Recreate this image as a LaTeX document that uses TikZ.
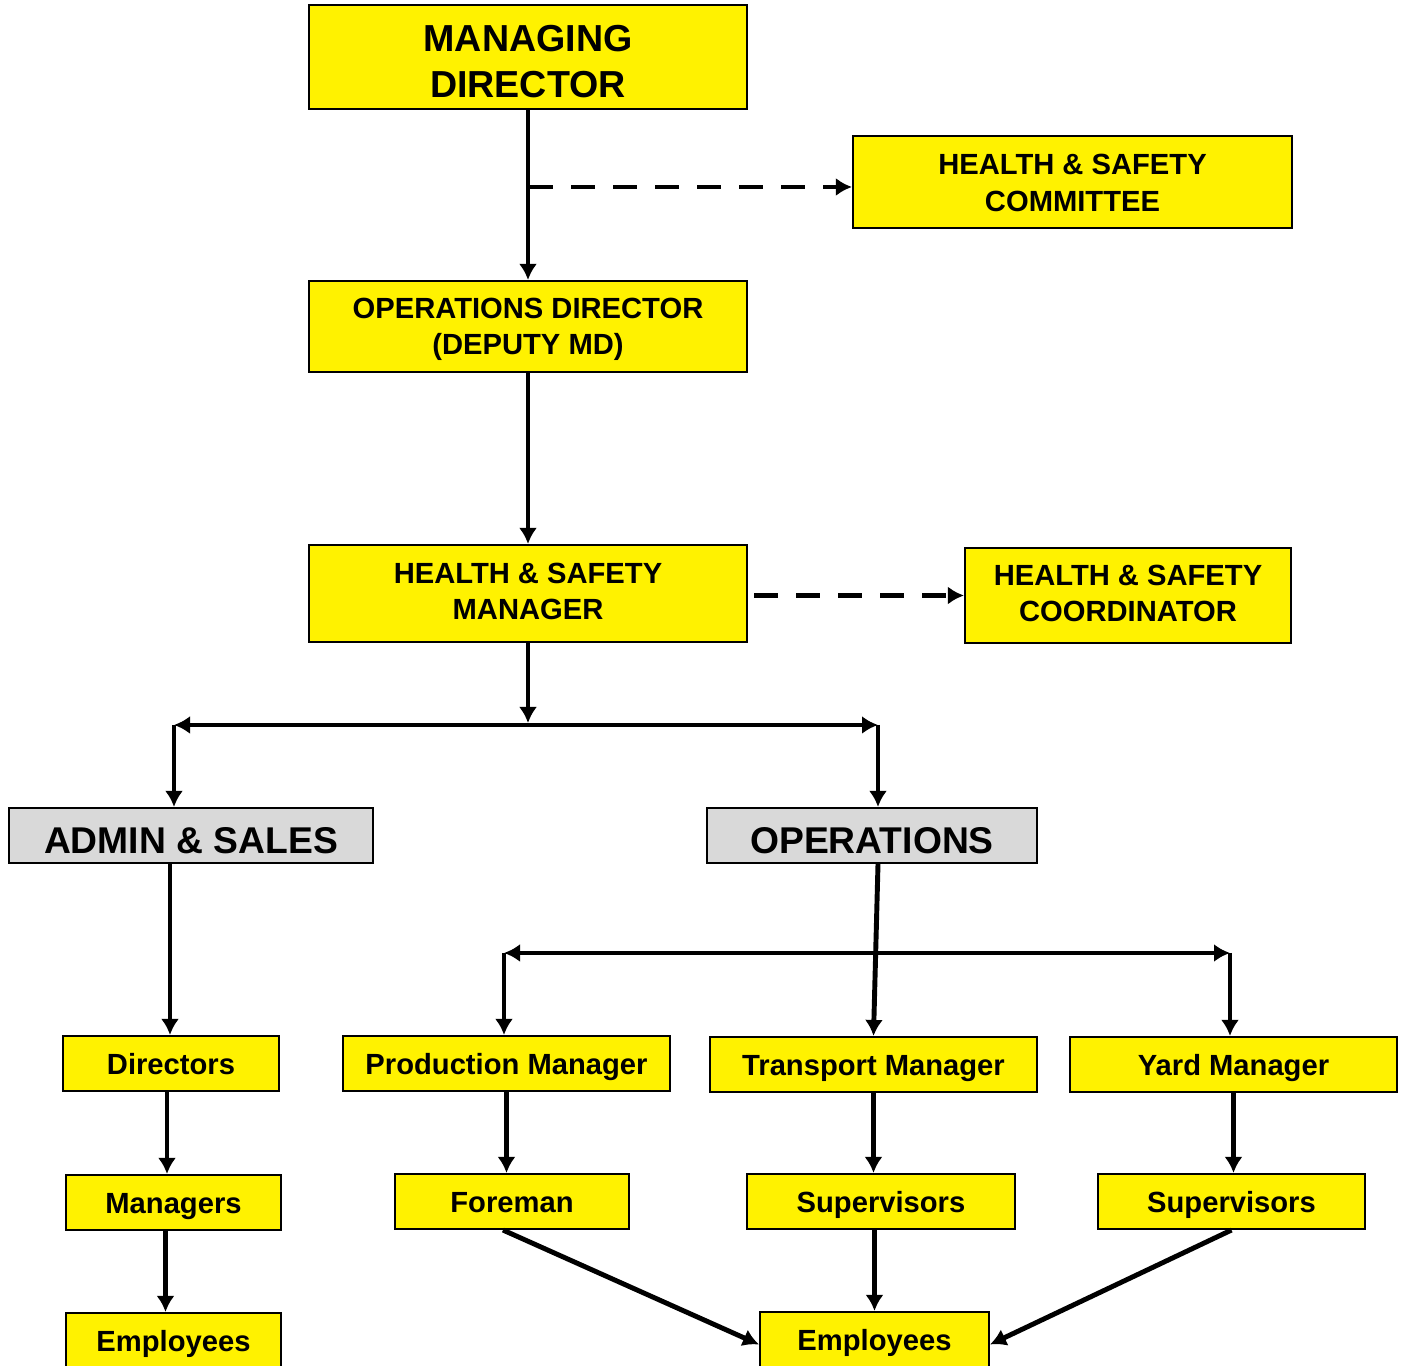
\documentclass[tikz,border=0pt]{standalone}
\usepackage{fontspec}
\setmainfont{Liberation Sans}
\usetikzlibrary{arrows.meta}

\tikzset{
  box/.style={draw, line width=0.6pt, fill=yellow, align=center, inner sep=0pt,
    font=\bfseries\fontsize{8.3}{10.4}\selectfont, text depth=0pt},
  onebox/.style={box, text height=0.229cm},
  bigbox/.style={box, font=\bfseries\fontsize{10.7}{13}\selectfont},
  deptbox/.style={box, fill=black!15, font=\bfseries\fontsize{10.6}{13}\selectfont, text height=0.356cm},
  arr/.style={line width=1.4pt, -{Latex[length=1.6mm,width=1.8mm]}},
  dasharr/.style={arr, dash pattern=on 0.24cm off 0.18cm},
  twoarr/.style={line width=1.4pt, {Latex[length=1.6mm,width=1.8mm]}-{Latex[length=1.6mm,width=1.8mm]}}
}

\begin{document}
\begin{tikzpicture}
  \useasboundingbox (0,0) rectangle (14.05,-13.66);
  % top of the chart
  \node[bigbox, minimum width=4.38cm, minimum height=1.04cm, text height=0.806cm] (md) at (5.28,-0.57) {MANAGING\\DIRECTOR};
  \node[box, minimum width=4.39cm, minimum height=0.92cm, text height=0.59cm] (hsc) at (10.725,-1.82) {HEALTH \& SAFETY\\COMMITTEE};
  \node[box, minimum width=4.38cm, minimum height=0.91cm, text height=0.57cm] (opd) at (5.28,-3.265) {OPERATIONS DIRECTOR\\(DEPUTY MD)};
  \node[box, minimum width=4.38cm, minimum height=0.97cm, text height=0.53cm] (hsm) at (5.28,-5.935) {HEALTH \& SAFETY\\MANAGER};
  \node[box, minimum width=3.26cm, minimum height=0.95cm, text height=0.525cm] (hsco) at (11.28,-5.955) {HEALTH \& SAFETY\\COORDINATOR};
  % departments
  \node[deptbox, minimum width=3.64cm, minimum height=0.55cm] (admin) at (1.91,-8.355) {ADMIN \& SALES};
  \node[deptbox, minimum width=3.30cm, minimum height=0.55cm] (ops) at (8.72,-8.355) {OPERATIONS};
  % managers
  \node[onebox, minimum width=2.16cm, minimum height=0.55cm] (dirs) at (1.71,-10.635) {Directors};
  \node[onebox, minimum width=3.27cm, minimum height=0.55cm] (prod) at (5.065,-10.635) {Production Manager};
  \node[onebox, minimum width=3.27cm, minimum height=0.55cm] (trans) at (8.735,-10.645) {Transport Manager};
  \node[onebox, minimum width=3.27cm, minimum height=0.55cm] (yard) at (12.335,-10.645) {Yard Manager};
  \node[onebox, minimum width=2.15cm, minimum height=0.55cm] (mgrs) at (1.735,-12.025) {Managers};
  \node[onebox, minimum width=2.34cm, minimum height=0.55cm] (fore) at (5.12,-12.015) {Foreman};
  \node[onebox, minimum width=2.68cm, minimum height=0.55cm] (sup1) at (8.81,-12.015) {Supervisors};
  \node[onebox, minimum width=2.67cm, minimum height=0.55cm] (sup2) at (12.315,-12.015) {Supervisors};
  \node[onebox, minimum width=2.15cm, minimum height=0.55cm] (emp1) at (1.735,-13.405) {Employees};
  \node[onebox, minimum width=2.29cm, minimum height=0.55cm] (emp2) at (8.745,-13.395) {Employees};
  % junctions
  \coordinate (j1) at (5.29,-1.87);
  \coordinate (bar) at (5.28,-7.23);
  \coordinate (bl) at (1.74,-7.25);
  \coordinate (br) at (8.78,-7.25);
  \coordinate (bl2) at (5.04,-9.53);
  \coordinate (br2) at (12.30,-9.53);
  % connectors
  \draw[arr] (md.south) -- (opd.north);
  \draw[dasharr] (j1) -- (j1 -| hsc.west);
  \draw[arr] (opd) -- (hsm);
  \draw[dasharr, shorten <=0.06cm] (hsm.east |- hsco.west) -- (hsco.west);
  \draw[arr] (hsm.south) -- (bar);
  \draw[twoarr] (bl) -- (br);
  \draw[arr] (bl) -- (bl |- admin.north);
  \draw[arr] (br) -- (br |- ops.north);
  \draw[arr] (br |- ops.south) -- (trans.north);
  \draw[twoarr] (bl2) -- (br2);
  \draw[arr] (bl2) -- (bl2 |- prod.north);
  \draw[arr] (br2) -- (br2 |- yard.north);
  \draw[arr] ([xshift=-0.01cm]admin.south -| dirs) -- ([xshift=-0.01cm]dirs.north);
  \draw[arr] ([xshift=-0.04cm]dirs.south) -- ([xshift=-0.04cm]dirs.south |- mgrs.north);
  \draw[arr] ([xshift=-0.08cm]mgrs.south) -- ([xshift=-0.08cm]mgrs.south |- emp1.north);
  \draw[arr] (prod.south) -- (prod.south |- fore.north);
  \draw[arr] (trans.south) -- (trans.south |- sup1.north);
  \draw[arr] (yard.south) -- (yard.south |- sup2.north);
  \draw[arr] ([xshift=-0.09cm]fore.south) -- ([yshift=-0.05cm]emp2.west);
  \draw[arr] (sup1.south -| emp2) -- (emp2.north);
  \draw[arr] (sup2.south) -- ([yshift=-0.05cm]emp2.east);
\end{tikzpicture}
\end{document}
